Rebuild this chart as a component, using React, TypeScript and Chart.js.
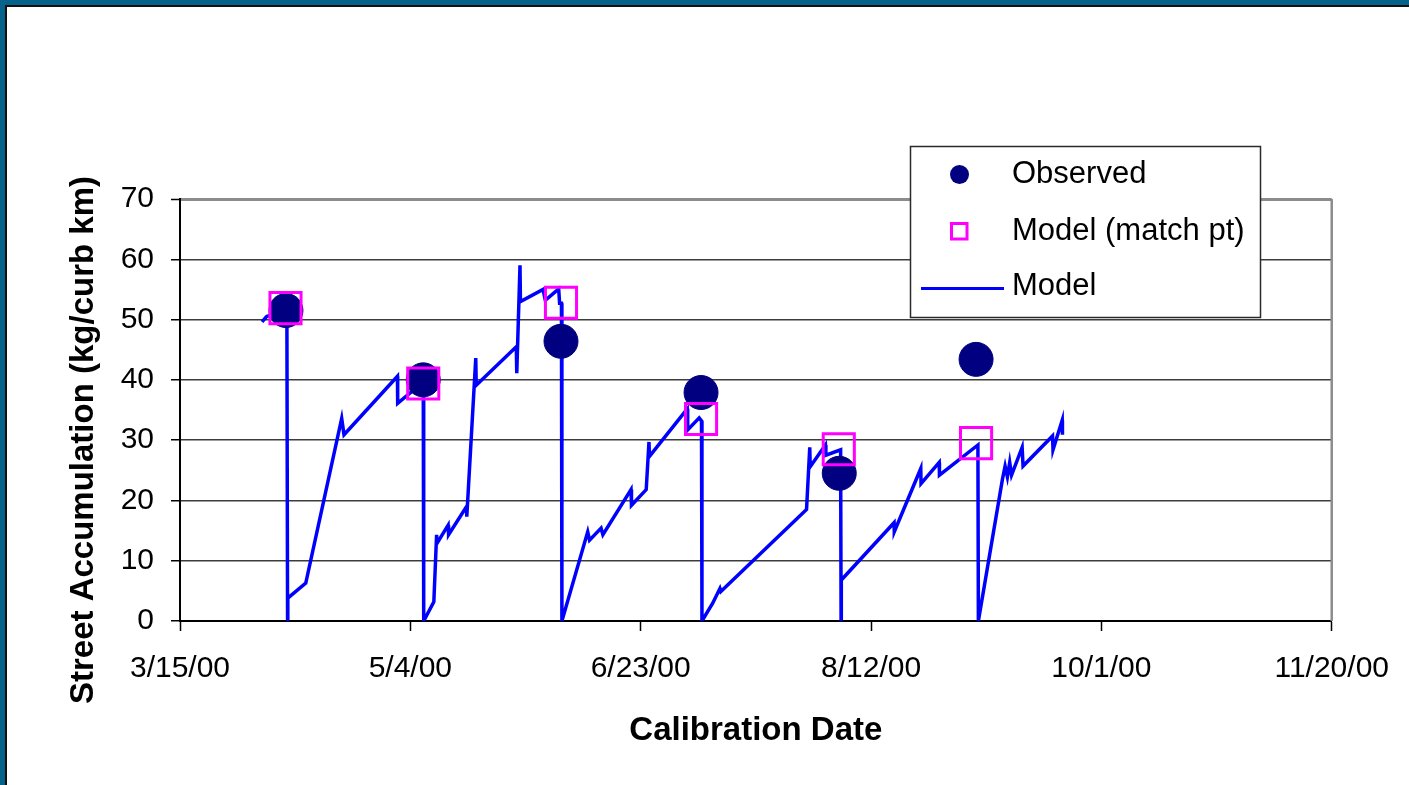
import React, { useEffect, useRef } from "react";
import { Chart, registerables } from "chart.js";

Chart.register(...registerables);

// ---- Data (days since 3/15/00) ----
const BASE_UTC = Date.UTC(2000, 2, 15);

const observedDays = [23.0, 52.8, 82.7, 113.1, 143.1, 172.8];
const observedValues = [51.5, 40.0, 46.4, 37.9, 24.5, 43.4];

const matchDays = [22.9, 52.8, 82.7, 113.1, 143.0, 172.8];
const matchValues = [51.9, 39.4, 52.8, 33.5, 28.5, 29.5];

const modelDays = [
  17.8, 18.8, 23.2, 23.35, 23.4, 27.3, 35.1, 35.6, 47.2, 47.25, 49.9, 52.8, 52.9,
  55.1, 55.7, 55.8, 58.2, 58.3, 62.2, 62.25, 64.2, 64.3, 73.0, 73.1, 73.8, 73.9,
  78.8, 79.3, 82.2, 82.4, 82.8, 82.9, 88.5, 88.9, 91.4, 91.8, 97.9, 98.0, 101.2,
  101.8, 101.9, 110.1, 110.2, 112.7, 113.2, 113.3, 115.6, 117.2, 117.4, 136.0,
  136.7, 136.8, 140.1, 140.2, 143.4, 143.5, 143.55, 155.0, 155.05, 160.8, 160.85,
  164.8, 164.85, 173.2, 173.3, 178.5, 179.1, 179.6, 180.1, 180.5, 182.8, 183.0,
  189.4, 189.5, 191.5, 191.55,
];
const modelValues = [
  49.6, 50.5, 51.6, 0, 3.8, 6.3, 33.6, 30.9, 40.6, 36.1, 37.8, 39.5, 0,
  3.2, 14.3, 12.9, 15.9, 14.3, 19.0, 17.3, 43.6, 39.1, 45.5, 41.1, 59.0, 53.0,
  55.0, 53.2, 55.1, 52.7, 52.7, 0, 14.8, 13.4, 15.4, 14.3, 21.8, 19.2, 21.8,
  29.7, 27.3, 35.2, 31.7, 33.7, 33.2, 0, 2.9, 5.4, 4.9, 18.5,
  28.8, 25.6, 29.2, 27.5, 28.4, 0, 6.8, 16.3, 14.8, 25.3, 22.8,
  26.3, 24.2, 29.2, 0, 23.4, 25.7, 23.9, 26.3, 24.2, 28.8, 25.7,
  30.7, 28.4, 33.3, 30.9,
];

const xMin = 0;
const xMax = 250;
const xStep = 50;
const yMin = 0;
const yMax = 70;
const yStep = 10;

const seriesLabels = ["Observed", "Model (match pt)", "Model"];
const xTitle = "Calibration Date";
const yTitle = "Street Accumulation (kg/curb km)";

const fmtDate = (days: number) => {
  const d = new Date(BASE_UTC + days * 86400000);
  const yy = String(d.getUTCFullYear() % 100).padStart(2, "0");
  return `${d.getUTCMonth() + 1}/${d.getUTCDate()}/${yy}`;
};

const FONT = '"Liberation Sans", Arial, sans-serif';

const frameAndLegendPlugin = {
  id: "frameAndLegend",
  beforeDatasetsDraw(chart: any) {
    const { ctx, chartArea } = chart;
    ctx.save();
    ctx.strokeStyle = "#8c8c8c";
    ctx.lineWidth = 2.5;
    ctx.beginPath();
    ctx.moveTo(chartArea.right, chartArea.top);
    ctx.lineTo(chartArea.right, chartArea.bottom);
    ctx.stroke();
    ctx.restore();
  },
  afterDraw(chart: any) {
    const { ctx } = chart;
    ctx.save();
    // y-axis title
    ctx.save();
    ctx.translate(84, 440);
    ctx.rotate(-Math.PI / 2);
    ctx.fillStyle = "#000";
    ctx.font = `bold 33px ${FONT}`;
    ctx.textAlign = "center";
    ctx.textBaseline = "middle";
    ctx.fillText(yTitle, 0, 0);
    ctx.restore();

    // legend box
    ctx.fillStyle = "#ffffff";
    ctx.fillRect(910, 146, 350, 171);
    ctx.strokeStyle = "#2a2a2a";
    ctx.lineWidth = 1.5;
    ctx.strokeRect(910.5, 146.5, 350, 171);

    // Observed marker
    ctx.fillStyle = "#000080";
    ctx.beginPath();
    ctx.arc(959.5, 174.5, 9.5, 0, Math.PI * 2);
    ctx.fill();

    // Match marker
    ctx.strokeStyle = "#ff00ff";
    ctx.lineWidth = 3;
    ctx.strokeRect(951.5, 223.5, 15.5, 15.5);

    // Model line
    ctx.strokeStyle = "#0000ff";
    ctx.lineWidth = 3;
    ctx.beginPath();
    ctx.moveTo(921, 288.5);
    ctx.lineTo(1004, 288.5);
    ctx.stroke();

    ctx.fillStyle = "#000000";
    ctx.font = `31px ${FONT}`;
    ctx.textBaseline = "middle";
    ctx.textAlign = "left";
    ctx.fillText(seriesLabels[0], 1012, 174);
    ctx.fillText(seriesLabels[1], 1012, 231);
    ctx.fillText(seriesLabels[2], 1012, 286);
    ctx.restore();
  },
};

export default function App() {
  const canvasRef = useRef<HTMLCanvasElement | null>(null);

  useEffect(() => {
    document.body.style.margin = "0";
    const canvas = canvasRef.current;
    if (!canvas) return;

    const chart = new Chart(canvas, {
      type: "scatter",
      data: {
        datasets: [
          {
            label: seriesLabels[0],
            data: observedDays.map((d, i) => ({ x: d, y: observedValues[i] })),
            showLine: false,
            pointStyle: "circle",
            pointRadius: 17,
            pointBorderWidth: 1,
            pointBackgroundColor: "#000080",
            pointBorderColor: "#000080",
            order: 1,
          },
          {
            label: seriesLabels[1],
            data: matchDays.map((d, i) => ({ x: d, y: matchValues[i] })),
            showLine: false,
            pointStyle: "rect",
            pointRadius: 22,
            pointBorderWidth: 3,
            pointBackgroundColor: "rgba(0,0,0,0)",
            pointBorderColor: "#ff00ff",
            order: 0,
          },
          {
            label: seriesLabels[2],
            data: modelDays.map((d, i) => ({ x: d, y: modelValues[i] })),
            showLine: true,
            borderColor: "#0000ff",
            borderWidth: 3.5,
            pointRadius: 0,
            tension: 0,
            fill: false,
            order: 2,
          },
        ],
      },
      options: {
        responsive: false,
        animation: false,
        events: [],
        layout: { padding: { top: 199, right: 76, bottom: 0, left: 0 } },
        plugins: {
          legend: { display: false },
          tooltip: { enabled: false },
          title: { display: false },
        },
        scales: {
          x: {
            type: "linear",
            min: xMin,
            max: xMax,
            afterFit: (s: any) => {
              s.height = 164;
            },
            ticks: {
              stepSize: xStep,
              autoSkip: false,
              maxRotation: 0,
              padding: 20,
              color: "#000",
              font: { family: FONT, size: 30 },
              callback: (v: any) => fmtDate(Number(v)),
            },
            grid: {
              drawOnChartArea: false,
              drawTicks: true,
              tickLength: 10,
              tickColor: "#000",
              tickWidth: 1.5,
            },
            border: { color: "#000", width: 2 },
            title: {
              display: true,
              text: xTitle,
              color: "#000",
              font: { family: FONT, size: 33, weight: "bold", lineHeight: 1 },
              padding: { top: 0, bottom: 38 },
            },
          },
          y: {
            type: "linear",
            min: yMin,
            max: yMax,
            afterFit: (s: any) => {
              s.width = 180;
            },
            ticks: {
              stepSize: yStep,
              padding: 17,
              color: "#000",
              font: { family: FONT, size: 30 },
            },
            grid: {
              color: (c: any) => (c.tick && c.tick.value === yMax ? "#8c8c8c" : "#3c3c3c"),
              lineWidth: (c: any) => (c.tick && c.tick.value === yMax ? 3 : 1.5),
              drawTicks: true,
              tickLength: 9,
              tickColor: "#000",
              tickWidth: 1.5,
            },
            border: { color: "#000", width: 2 },
            title: { display: false },
          },
        },
      },
      plugins: [frameAndLegendPlugin],
    });

    return () => {
      chart.destroy();
    };
  }, []);

  return (
    <div
      style={{
        position: "relative",
        width: 1409,
        height: 785,
        background: "#05628a",
        overflow: "hidden",
      }}
    >
      <div
        style={{
          position: "absolute",
          left: 5,
          top: 5,
          right: 0,
          bottom: 0,
          background: "#ffffff",
          borderTop: "2px solid #111",
          borderLeft: "2px solid #111",
        }}
      />
      <canvas
        ref={canvasRef}
        width={1409}
        height={785}
        style={{ position: "absolute", left: 0, top: 0, display: "block" }}
      />
    </div>
  );
}
